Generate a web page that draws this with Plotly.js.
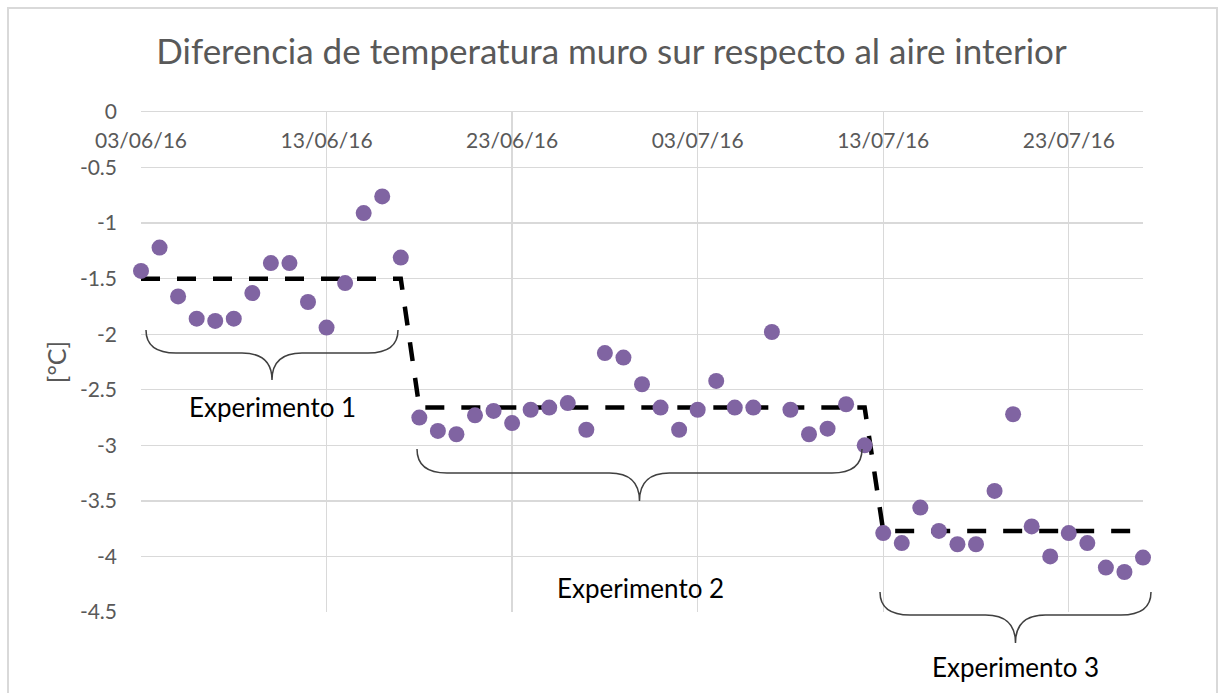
<!DOCTYPE html>
<html>
<head>
<meta charset="utf-8">
<script src="https://cdn.plot.ly/plotly-3.0.1.min.js"></script>
<style>
  html, body { margin: 0; padding: 0; background: #fff; }
  #chart { width: 1223px; height: 693px; }
</style>
</head>
<body>
<div id="chart"></div>
<script>
// ---- DATA ----
const dates = [
  '2016-06-03','2016-06-04','2016-06-05','2016-06-06','2016-06-07','2016-06-08','2016-06-09',
  '2016-06-10','2016-06-11','2016-06-12','2016-06-13','2016-06-14','2016-06-15','2016-06-16',
  '2016-06-17','2016-06-18','2016-06-19','2016-06-20','2016-06-21','2016-06-22','2016-06-23',
  '2016-06-24','2016-06-25','2016-06-26','2016-06-27','2016-06-28','2016-06-29','2016-06-30',
  '2016-07-01','2016-07-02','2016-07-03','2016-07-04','2016-07-05','2016-07-06','2016-07-07',
  '2016-07-08','2016-07-09','2016-07-10','2016-07-11','2016-07-12','2016-07-13','2016-07-14',
  '2016-07-15','2016-07-16','2016-07-17','2016-07-18','2016-07-19','2016-07-20','2016-07-21',
  '2016-07-22','2016-07-23','2016-07-24','2016-07-25','2016-07-26','2016-07-27'
];

const diferencia = [
  -1.43, -1.22, -1.66, -1.86, -1.88, -1.86, -1.63, -1.36, -1.36, -1.71, -1.94, -1.54, -0.91, -0.76, -1.31,
  -2.75, -2.87, -2.90, -2.73, -2.69, -2.80, -2.68, -2.66, -2.62, -2.86, -2.17, -2.21, -2.45, -2.66, -2.86,
  -2.68, -2.42, -2.66, -2.66, -1.98, -2.68, -2.90, -2.85, -2.63, -3.00,
  -3.79, -3.88, -3.56, -3.77, -3.89, -3.89, -3.41, -2.72, -3.73, -4.00, -3.79, -3.88, -4.10, -4.14, -4.01
];

const mediaExperimento = [
  -1.5, -1.5, -1.5, -1.5, -1.5, -1.5, -1.5, -1.5, -1.5, -1.5, -1.5, -1.5, -1.5, -1.5, -1.5,
  -2.66, -2.66, -2.66, -2.66, -2.66, -2.66, -2.66, -2.66, -2.66, -2.66, -2.66, -2.66, -2.66, -2.66, -2.66,
  -2.66, -2.66, -2.66, -2.66, -2.66, -2.66, -2.66, -2.66, -2.66, -2.66,
  -3.77, -3.77, -3.77, -3.77, -3.77, -3.77, -3.77, -3.77, -3.77, -3.77, -3.77, -3.77, -3.77, -3.77, -3.77
];

const yTickVals = [0, -0.5, -1, -1.5, -2, -2.5, -3, -3.5, -4, -4.5];
const yTickText = ['0', '-0.5', '-1', '-1.5', '-2', '-2.5', '-3', '-3.5', '-4', '-4.5'];

const experimentos = ['Experimento 1', 'Experimento 2', 'Experimento 3'];
const titulo = 'Diferencia de temperatura muro sur respecto al aire interior';
const tituloEjeY = '[°C]';

// ---- LAYOUT HELPERS (pixel -> paper) ----
const W = 1223, H = 693;
const M = { l: 141, r: 80, t: 112, b: 81 };
const PW = W - M.l - M.r, PH = H - M.t - M.b;
const px = x => (x - M.l) / PW;
const py = y => (H - M.b - y) / PH;

function brace(x0, x1, yTop, yMid, yTip) {
  const xm = (x0 + x1) / 2, cw = 30;
  const pts = [
    ['M', [x0, yTop]],
    ['Q', [x0, yMid], [x0 + cw, yMid]],
    ['L', [xm - cw, yMid]],
    ['Q', [xm, yMid], [xm, yTip]],
    ['Q', [xm, yMid], [xm + cw, yMid]],
    ['L', [x1 - cw, yMid]],
    ['Q', [x1, yMid], [x1, yTop]]
  ];
  const path = pts.map(p => p[0] + ' ' + p.slice(1).map(c => px(c[0]).toFixed(5) + ',' + py(c[1]).toFixed(5)).join(' ')).join(' ');
  return {
    type: 'path', xref: 'paper', yref: 'paper', path: path,
    line: { color: '#404040', width: 1.5 }
  };
}

const traces = [
  {
    x: dates, y: mediaExperimento, type: 'scatter', mode: 'lines',
    line: { color: '#000000', width: 4.5, dash: '19px,17px' },
    cliponaxis: false, hoverinfo: 'skip'
  },
  {
    x: dates, y: diferencia, type: 'scatter', mode: 'markers',
    marker: { color: '#8064A2', size: 16 },
    cliponaxis: false
  }
];

const labelFont = { size: 26, color: '#000000' };

const layout = {
  width: W, height: H,
  margin: M,
  paper_bgcolor: '#ffffff', plot_bgcolor: '#ffffff',
  showlegend: false,
  hovermode: false,
  font: { family: 'Lato, "Open Sans", sans-serif', color: '#595959' },
  title: {
    text: titulo, xref: 'container', x: 0.5, xanchor: 'center',
    yref: 'container', y: 1 - 52 / H, yanchor: 'middle',
    font: { size: 35, color: '#595959', family: 'Lato, sans-serif' }
  },
  xaxis: {
    type: 'date', side: 'top',
    range: ['2016-06-03', '2016-07-27'],
    tick0: '2016-06-03', dtick: 10 * 86400000, tickformat: '%d/%m/%y',
    ticklabelposition: 'inside', ticklabeloverflow: 'allow', ticklabelstandoff: 23,
    ticks: '', showgrid: true, gridcolor: '#d9d9d9', gridwidth: 1.3,
    showline: true, linecolor: '#d9d9d9', linewidth: 1.3,
    tickfont: { size: 21, color: '#595959' },
    zeroline: false, fixedrange: true
  },
  yaxis: {
    range: [-4.5, 0], tickvals: yTickVals, ticktext: yTickText,
    ticks: '', ticklabelstandoff: 23,
    showgrid: true, gridcolor: '#d9d9d9', gridwidth: 1.3,
    showline: false, zeroline: false,
    tickfont: { size: 21, color: '#595959' },
    title: { text: tituloEjeY, standoff: 6, font: { size: 25, color: '#595959' } },
    fixedrange: true
  },
  shapes: [
    { type: 'rect', xref: 'paper', yref: 'paper', x0: px(8), x1: px(1217), y0: py(705), y1: py(8),
      line: { color: '#d9d9d9', width: 2 }, layer: 'below' },
    brace(146, 398, 330, 353, 380),
    brace(417, 862, 449, 473, 501),
    brace(880, 1151, 592, 615, 643)
  ],
  annotations: [
    { text: experimentos[0], xref: 'paper', yref: 'paper', x: px(272), y: py(407), showarrow: false,
      xanchor: 'center', yanchor: 'middle', font: labelFont },
    { text: experimentos[1], xref: 'paper', yref: 'paper', x: px(640), y: py(588), showarrow: false,
      xanchor: 'center', yanchor: 'middle', font: labelFont },
    { text: experimentos[2], xref: 'paper', yref: 'paper', x: px(1015), y: py(667), showarrow: false,
      xanchor: 'center', yanchor: 'middle', font: labelFont }
  ]
};

Plotly.newPlot('chart', traces, layout, { displayModeBar: false, staticPlot: true });
</script>
</body>
</html>
